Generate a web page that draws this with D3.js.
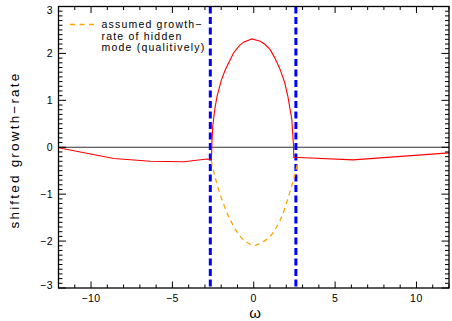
<!DOCTYPE html>
<html>
<head>
<meta charset="utf-8">
<script src="https://cdn.jsdelivr.net/npm/d3@7"></script>
<style>
  html, body { margin: 0; padding: 0; background: #fff; }
  svg { display: block; font-family: "Liberation Sans", Arial, Helvetica, sans-serif; }
</style>
</head>
<body>
<svg id="chart" width="452" height="321"></svg>
<script>
// Growth-rate of the visible mode versus frequency ω
const redOmega = [-12, -8.6, -6.35, -4.3, -2.87, -2.6, -2.57, -2.52, -2.4, -2.26, -2.0, -1.75, -1.24, -0.9, -0.63, -0.11, 0.4, 0.7, 1.01, 1.3, 1.63, 1.9, 2.10, 2.34, 2.44, 2.46, 2.81, 6.1, 12];
const redRate  = [-0.01, -0.24, -0.30, -0.31, -0.25, -0.27, 0.1, 0.45, 0.8, 1.08, 1.42, 1.65, 2.01, 2.16, 2.24, 2.31, 2.26, 2.19, 2.08, 1.9, 1.65, 1.38, 1.08, 0.59, 0.05, -0.22, -0.22, -0.27, -0.12];

// Assumed growth-rate of the hidden mode (qualitative)
const hiddenOmega = [-2.61, -2.36, -1.95, -1.44, -0.83, -0.4, 0.05, 0.5, 1.01, 1.63, 2.14, 2.44, 2.69];
const hiddenRate  = [-0.29, -0.66, -1.12, -1.55, -1.90, -2.03, -2.09, -2.03, -1.90, -1.55, -1.05, -0.69, -0.35];

// Frequencies bounding the unstable band
const cutOmega = [-2.67, 2.59];

const xMajor = [-10, -5, 0, 5, 10];
const xMinor = d3.range(-12, 13, 1);
const yMajor = [-3, -2, -1, 0, 1, 2, 3];
const yMinor = d3.range(-30, 31, 1).map(v => v / 10);

const legendLines = ["assumed growth\u2212", "rate of hidden", "mode (qualitively)"];
const fmt = v => (v < 0 ? "\u2212" + Math.abs(v) : String(v));

const svg = d3.select("#chart");
const L = 58.5, R = 449, T = 6.5, B = 288;
const x = d3.scaleLinear().domain([-12, 12]).range([L, R]);
const y = d3.scaleLinear().domain([-3, 3]).range([B, T]);

// zero line
svg.append("line")
  .attr("x1", L).attr("x2", R).attr("y1", y(0)).attr("y2", y(0))
  .attr("stroke", "#333").attr("stroke-width", 1.2);

// cut-off frequencies
svg.selectAll("line.cut").data(cutOmega).join("line")
  .attr("class", "cut")
  .attr("x1", d => x(d)).attr("x2", d => x(d))
  .attr("y1", T).attr("y2", B)
  .attr("stroke", "#0000ff").attr("stroke-width", 3)
  .attr("stroke-dasharray", "7,3.5");

// hidden mode
const hidden = hiddenOmega.map((w, i) => [w, hiddenRate[i]]);
svg.append("path")
  .attr("d", d3.line().x(d => x(d[0])).y(d => y(d[1])).curve(d3.curveCatmullRom)(hidden))
  .attr("fill", "none").attr("stroke", "#ffa500").attr("stroke-width", 1.3)
  .attr("stroke-dasharray", "5,4");

// visible mode
const red = redOmega.map((w, i) => [w, redRate[i]]);
svg.append("path")
  .attr("d", d3.line().x(d => x(d[0])).y(d => y(d[1]))(red))
  .attr("fill", "none").attr("stroke", "#ff0000").attr("stroke-width", 1.1);

// frame and ticks on all four sides
const axisG = svg.append("g").attr("stroke", "#000").attr("stroke-width", 1);
axisG.append("rect").attr("x", L).attr("y", T).attr("width", R - L).attr("height", B - T)
  .attr("fill", "none").attr("stroke", "#000").attr("stroke-width", 1.3);

xMinor.forEach(v => {
  const len = xMajor.includes(v) ? 6.5 : 3.5;
  axisG.append("line").attr("x1", x(v)).attr("x2", x(v)).attr("y1", B).attr("y2", B - len);
  axisG.append("line").attr("x1", x(v)).attr("x2", x(v)).attr("y1", T).attr("y2", T + len);
});
yMinor.forEach(v => {
  const major = yMajor.some(m => Math.abs(m - v) < 1e-9);
  const len = major ? 7.5 : 4;
  axisG.append("line").attr("x1", L).attr("x2", L + len).attr("y1", y(v)).attr("y2", y(v));
  axisG.append("line").attr("x1", R).attr("x2", R - len).attr("y1", y(v)).attr("y2", y(v));
});

// tick labels
svg.selectAll("text.xt").data(xMajor).join("text")
  .attr("class", "xt")
  .attr("x", d => x(d)).attr("y", 302)
  .attr("text-anchor", "middle").attr("font-size", 10.5)
  .attr("letter-spacing", 0.5)
  .text(fmt);

svg.selectAll("text.yt").data(yMajor).join("text")
  .attr("class", "yt")
  .attr("x", 53).attr("y", d => y(d) + (d === 3 ? 7.5 : d === -3 ? 0.5 : 3.7))
  .attr("text-anchor", "end").attr("font-size", 10.5)
  .attr("letter-spacing", 0.5)
  .text(fmt);

// axis titles
svg.append("text")
  .attr("x", 255).attr("y", 318)
  .attr("text-anchor", "middle").attr("font-size", 15)
  .text("\u03c9");

svg.append("text")
  .attr("transform", "translate(19,150) rotate(-90)")
  .attr("text-anchor", "middle").attr("font-size", 13.5)
  .attr("letter-spacing", 2.2)
  .text("shifted growth\u2212rate");

// legend
svg.append("line")
  .attr("x1", 70).attr("x2", 95).attr("y1", 24.5).attr("y2", 24.5)
  .attr("stroke", "#ffa500").attr("stroke-width", 1.3)
  .attr("stroke-dasharray", "5,4.5");
svg.selectAll("text.lg").data(legendLines).join("text")
  .attr("class", "lg")
  .attr("x", 101.5).attr("y", (d, i) => 28.3 + i * 11.5)
  .attr("font-size", 10.5).attr("letter-spacing", 1.2)
  .text(d => d);
</script>
</body>
</html>
